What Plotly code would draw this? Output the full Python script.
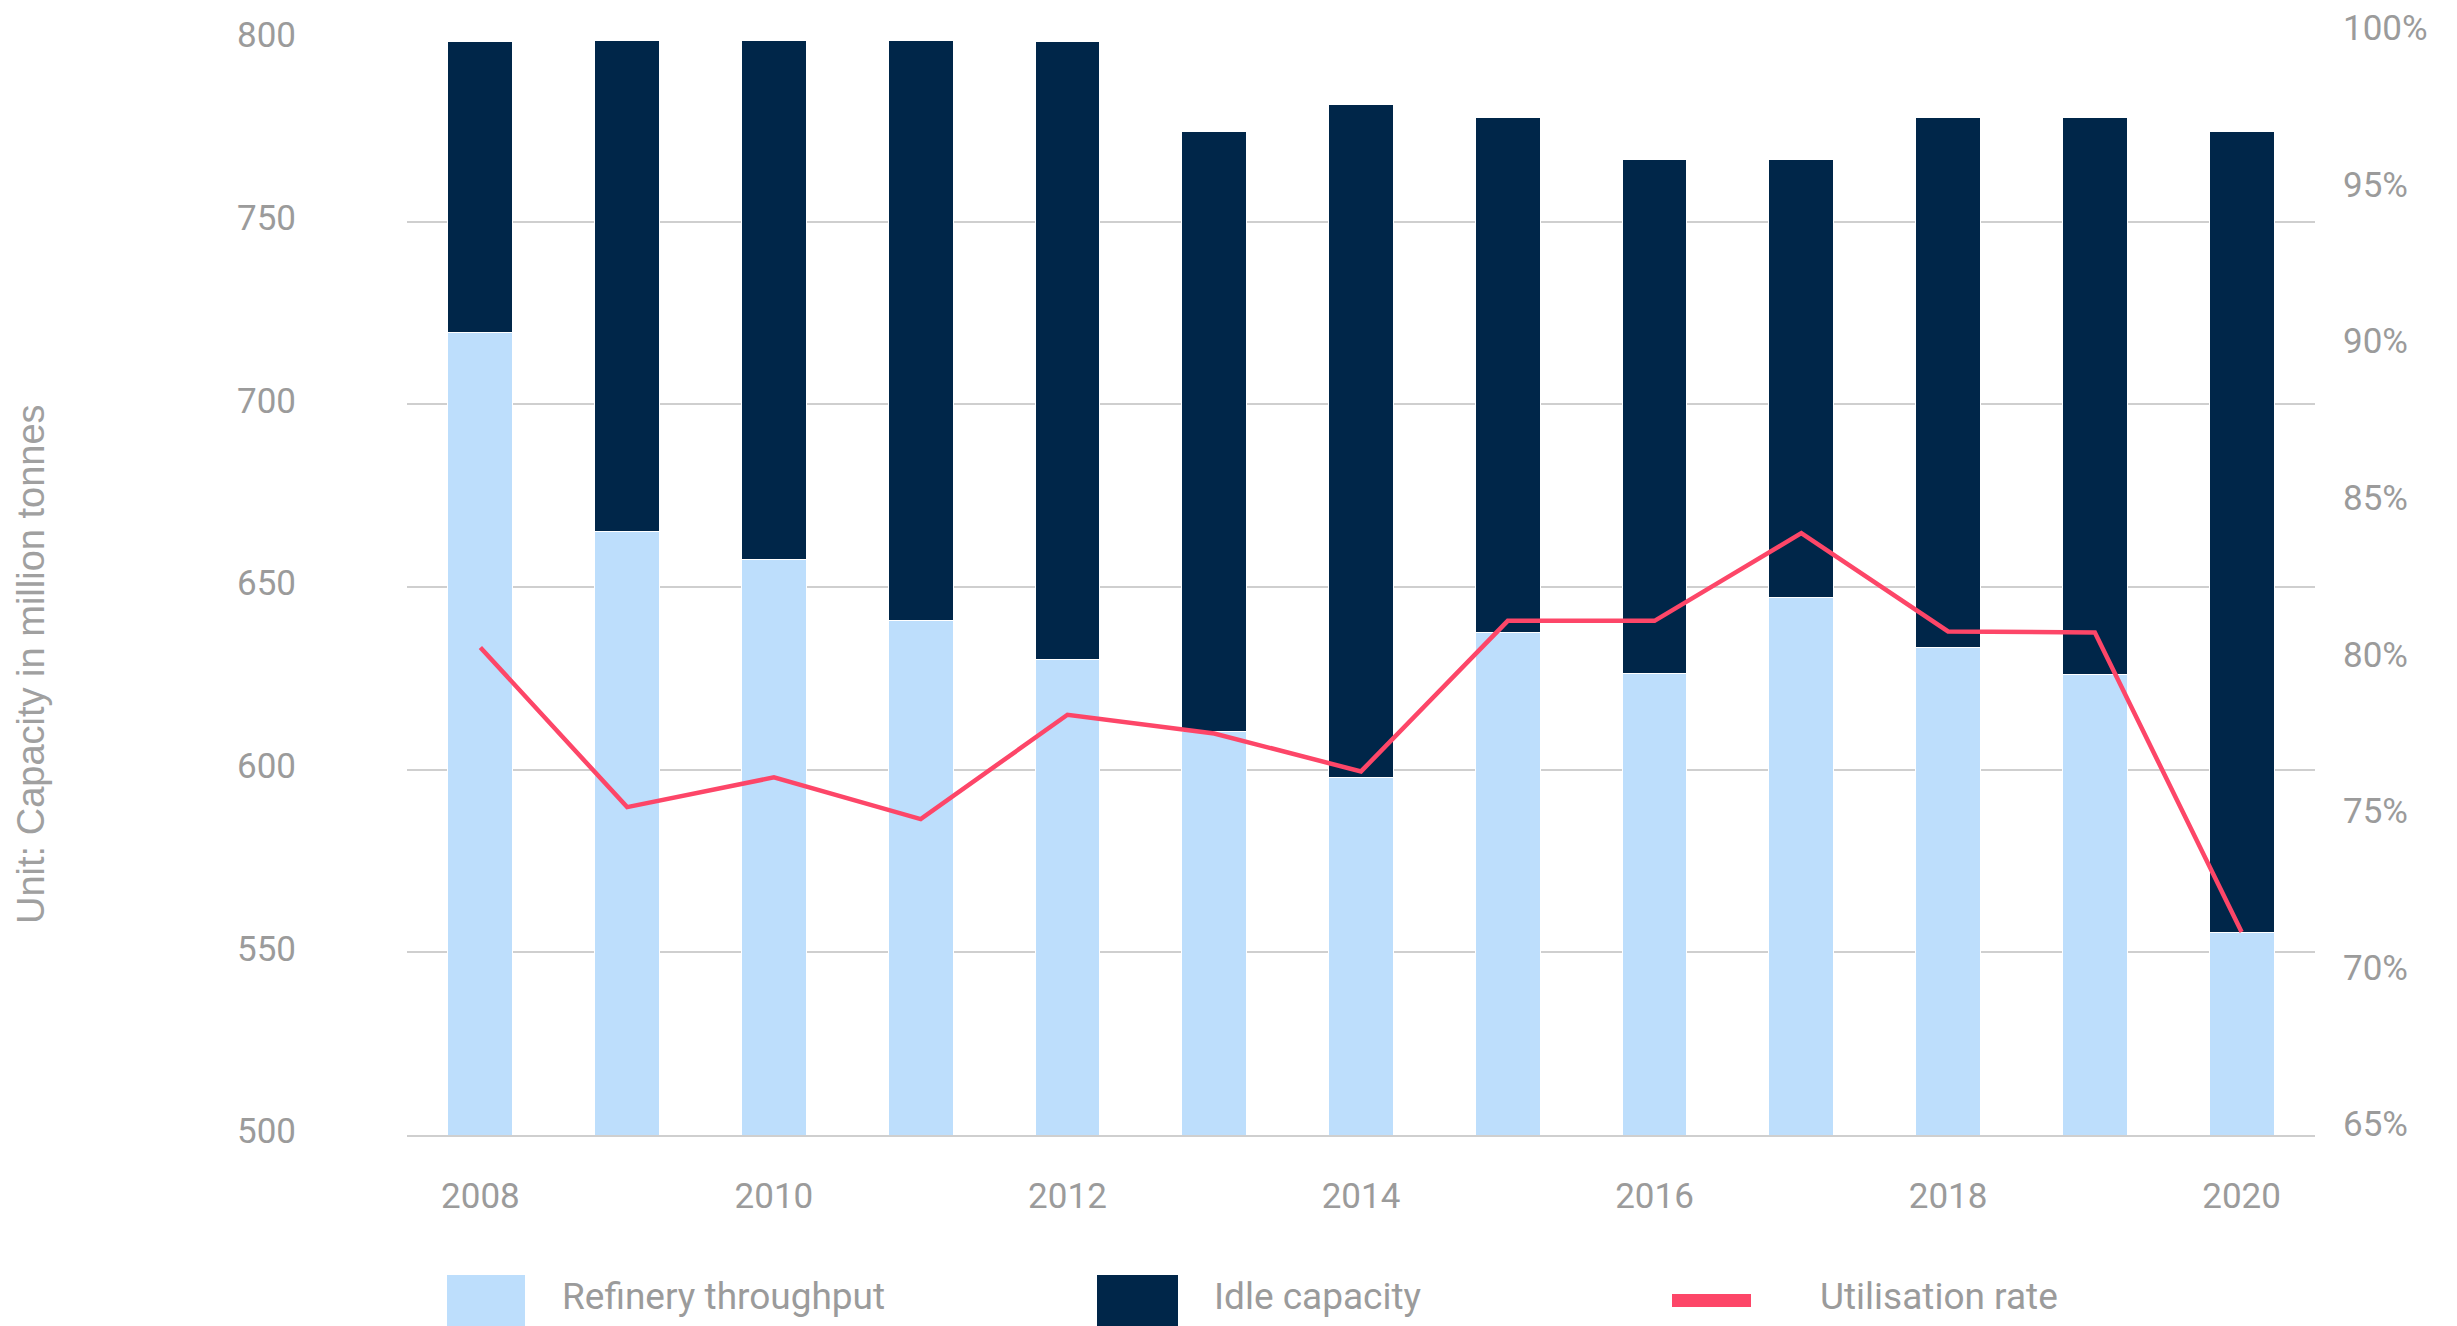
import plotly.graph_objects as go

# ---- data ----
years = [2008, 2009, 2010, 2011, 2012, 2013, 2014, 2015, 2016, 2017, 2018, 2019, 2020]
throughput = [719.8, 665.1, 657.5, 640.8, 630.1, 610.4, 597.9, 637.6, 626.3, 647.2, 633.4, 626.0, 555.5]
total_capacity = [799.2, 799.7, 799.7, 799.7, 799.2, 774.7, 782.0, 778.6, 767.0, 767.0, 778.6, 778.6, 774.7]
idle = [round(c - t, 1) for c, t in zip(total_capacity, throughput)]
utilisation = [80.57, 75.47, 76.42, 75.09, 78.42, 77.82, 76.61, 81.42, 81.42, 84.22, 81.08, 81.05, 71.48]
x_ticks = [2008, 2010, 2012, 2014, 2016, 2018, 2020]
series_names = ["Refinery throughput", "Idle capacity", "Utilisation rate"]

LIGHT = "#bddefc"
NAVY = "#002649"
RED = "#fd4668"
GREY = "#9b9b9b"
GRID = "#cfcfcf"
W, H = 2457, 1326
L, R, T, B = 407, 142, 39, 191

fig = go.Figure()
fig.add_trace(go.Bar(x=years, y=throughput, name=series_names[0], marker=dict(color=LIGHT, line=dict(color="white", width=1))))
fig.add_trace(go.Bar(x=years, y=idle, name=series_names[1], marker=dict(color=NAVY, line=dict(color="white", width=1))))
fig.add_trace(go.Scatter(x=years, y=utilisation, name=series_names[2], mode="lines",
                         line=dict(color=RED, width=4.5), yaxis="y2"))

tick_font = dict(family="Roboto", size=35, color=GREY)

fig.update_layout(
    width=W, height=H,
    margin=dict(l=L, r=R, t=T, b=B, autoexpand=False),
    paper_bgcolor="white", plot_bgcolor="white",
    barmode="stack", bargap=0.558,
    showlegend=False,
    xaxis=dict(range=[2007.5, 2020.5], tickvals=x_ticks, ticktext=[str(v) for v in x_ticks],
               showgrid=False, zeroline=False, showline=True, linecolor=GRID, linewidth=1.5, ticks="",
               tickfont=tick_font, ticklabelstandoff=29),
    yaxis=dict(range=[500, 800], tick0=500, dtick=50, showgrid=True, gridcolor=GRID, gridwidth=1.5,
               zeroline=False, showline=False, ticks="", tickfont=tick_font,
               ticklabelstandoff=110, ticklabelshift=-4),
    yaxis2=dict(range=[65, 100], tick0=65, dtick=5, ticksuffix="%", overlaying="y", side="right",
                showgrid=False, zeroline=False, showline=False, ticks="", tickfont=tick_font,
                ticklabelstandoff=27, ticklabelshift=-11),
)

pw = W - L - R
ph = H - T - B


def px_x(p):
    return (p - L) / pw


def px_y(p):
    return (H - B - p) / ph


# axis title
fig.add_annotation(text="Unit: Capacity in million tonnes", xref="paper", yref="paper",
                   x=px_x(31), y=px_y(664), textangle=-90, showarrow=False,
                   xanchor="center", yanchor="middle",
                   font=dict(family="Liberation Sans", size=38, color="#a0a0a0"))

# custom legend (large swatches as in the reference)
legend_items = [
    (series_names[0], LIGHT, 447, 525, 1275, 1340, 560),
    (series_names[1], NAVY, 1097, 1178, 1275, 1340, 1212),
    (series_names[2], RED, 1672, 1751, 1294, 1307, 1818),
]
for name, col, x0, x1, y0, y1, tx in legend_items:
    fig.add_shape(type="rect", xref="paper", yref="paper",
                  x0=px_x(x0), x1=px_x(x1), y0=px_y(y1), y1=px_y(y0),
                  fillcolor=col, line=dict(width=0))
    fig.add_annotation(text=name, xref="paper", yref="paper", x=px_x(tx), y=px_y(1296),
                       xanchor="left", yanchor="middle", showarrow=False,
                       font=dict(family="Roboto", size=37, color=GREY))

fig.write_html("out.html", config={"displayModeBar": False},
               post_script="document.body.style.margin='0px';document.body.style.overflow='hidden';")
